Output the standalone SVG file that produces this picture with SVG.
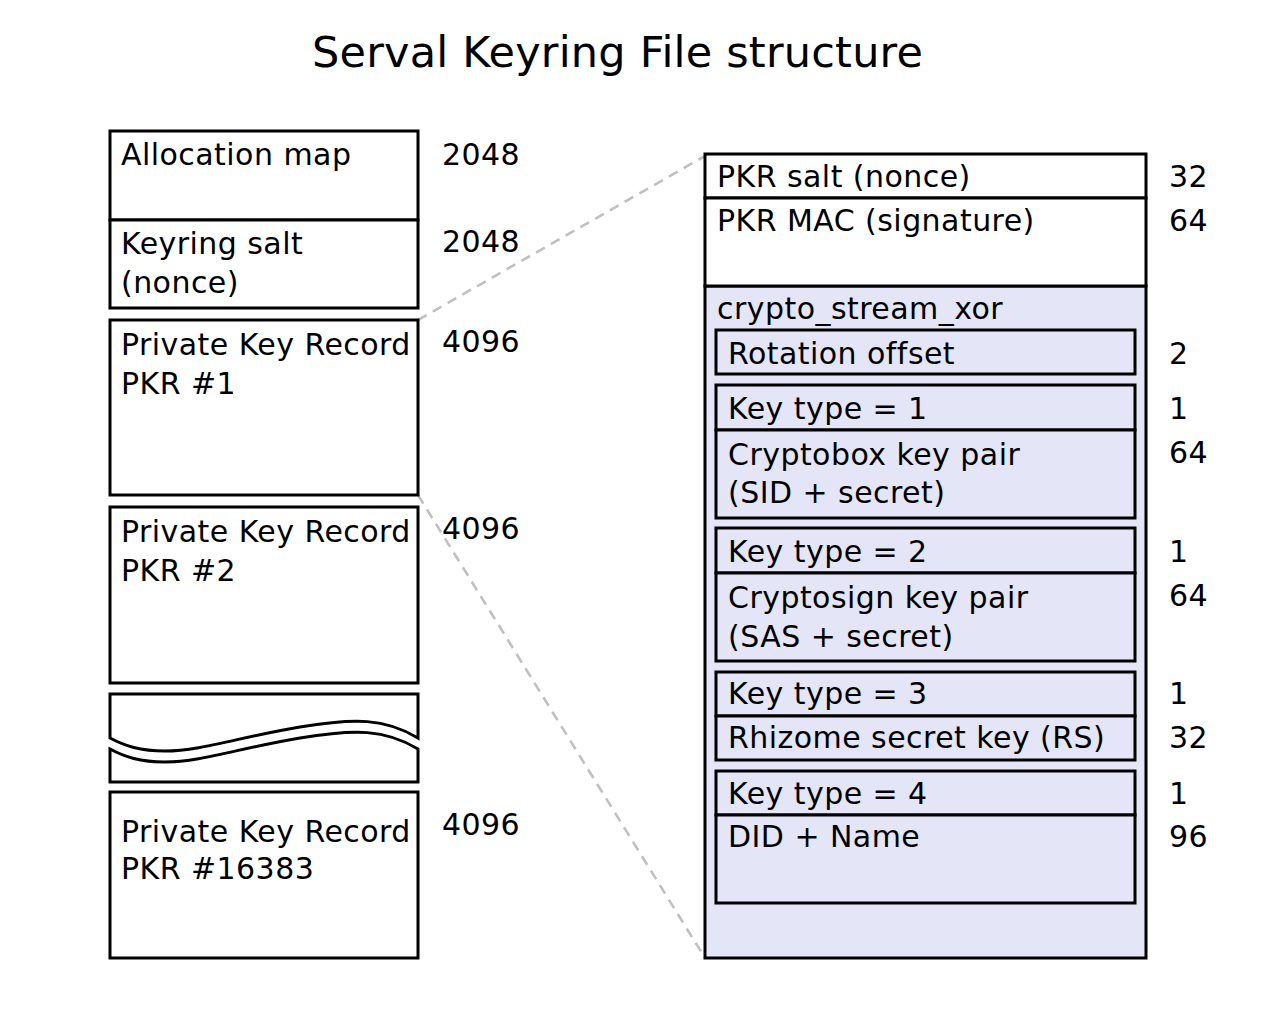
<svg xmlns="http://www.w3.org/2000/svg" width="1280" height="1015" viewBox="0 0 1280 1015">
<style>
text{font-family:"DejaVu Sans",sans-serif;font-size:30px;letter-spacing:0.45px;fill:#000}
.title{font-size:43px;letter-spacing:0.2px}
.box{fill:#fff;stroke:#000;stroke-width:3}
.sh{fill:#e5e5f8;stroke:#000;stroke-width:3}
.conn{fill:none;stroke:#c0c0c0;stroke-width:2.6;stroke-dasharray:10,7}
</style>
<rect width="1280" height="1015" fill="#fff"/>
<text class="title" x="312" y="67">Serval Keyring File structure</text>
<g id="connectors">
<line class="conn" x1="418" y1="320" x2="705" y2="156"/>
<line class="conn" x1="418" y1="495" x2="705" y2="958"/>
</g>
<g id="alloc">
<rect class="box" x="110" y="131" width="308" height="89"/>
<text x="121" y="165">Allocation map</text>
<text x="442" y="165">2048</text>
</g>
<g id="salt">
<rect class="box" x="110" y="220" width="308" height="88"/>
<text x="121" y="254">Keyring salt</text>
<text x="121" y="293">(nonce)</text>
<text x="442" y="252">2048</text>
</g>
<g id="pkr1">
<rect class="box" x="110" y="320" width="308" height="175"/>
<text x="121" y="355">Private Key Record</text>
<text x="121" y="394">PKR #1</text>
<text x="442" y="352">4096</text>
</g>
<g id="pkr2">
<rect class="box" x="110" y="507" width="308" height="176"/>
<text x="121" y="542">Private Key Record</text>
<text x="121" y="581">PKR #2</text>
<text x="442" y="539">4096</text>
</g>
<g id="break">
<path class="box" d="M110,694 H418 V738 C385,718 355,718 300,727 C240,737 200,751 165,751 C140,751 125,746 110,738 Z"/>
<path class="box" d="M110,749 C125,757 140,762 165,762 C200,762 240,748 300,738 C355,729 385,729 418,749 V782 H110 Z"/>
</g>
<g id="pkr16383">
<rect class="box" x="110" y="792" width="308" height="166"/>
<text x="121" y="842">Private Key Record</text>
<text x="121" y="879">PKR #16383</text>
<text x="442" y="835">4096</text>
</g>
<g id="pkr-detail">
<rect class="sh" x="705" y="286" width="441" height="672"/>
<rect class="box" x="705" y="154" width="441" height="44"/>
<rect class="box" x="705" y="198" width="441" height="88"/>
<text x="717" y="187">PKR salt (nonce)</text>
<text x="1169" y="187">32</text>
<text x="717" y="231">PKR MAC (signature)</text>
<text x="1169" y="231">64</text>
<text x="717" y="319">crypto_stream_xor</text>
</g>
<g id="rotation">
<rect class="sh" x="716" y="330" width="419" height="44"/>
<text x="728" y="364">Rotation offset</text>
<text x="1169" y="364">2</text>
</g>
<g id="key1">
<rect class="sh" x="716" y="385" width="419" height="45"/>
<rect class="sh" x="716" y="430" width="419" height="88"/>
<text x="728" y="419">Key type = 1</text>
<text x="1169" y="419">1</text>
<text x="728" y="465">Cryptobox key pair</text>
<text x="728" y="503">(SID + secret)</text>
<text x="1169" y="463">64</text>
</g>
<g id="key2">
<rect class="sh" x="716" y="528" width="419" height="45"/>
<rect class="sh" x="716" y="573" width="419" height="88"/>
<text x="728" y="562">Key type = 2</text>
<text x="1169" y="562">1</text>
<text x="728" y="608">Cryptosign key pair</text>
<text x="728" y="647">(SAS + secret)</text>
<text x="1169" y="606">64</text>
</g>
<g id="key3">
<rect class="sh" x="716" y="672" width="419" height="44"/>
<rect class="sh" x="716" y="716" width="419" height="44"/>
<text x="728" y="704">Key type = 3</text>
<text x="1169" y="704">1</text>
<text x="728" y="748">Rhizome secret key (RS)</text>
<text x="1169" y="748">32</text>
</g>
<g id="key4">
<rect class="sh" x="716" y="771" width="419" height="44"/>
<rect class="sh" x="716" y="815" width="419" height="88"/>
<text x="728" y="804">Key type = 4</text>
<text x="1169" y="804">1</text>
<text x="728" y="847">DID + Name</text>
<text x="1169" y="847">96</text>
</g>
</svg>
